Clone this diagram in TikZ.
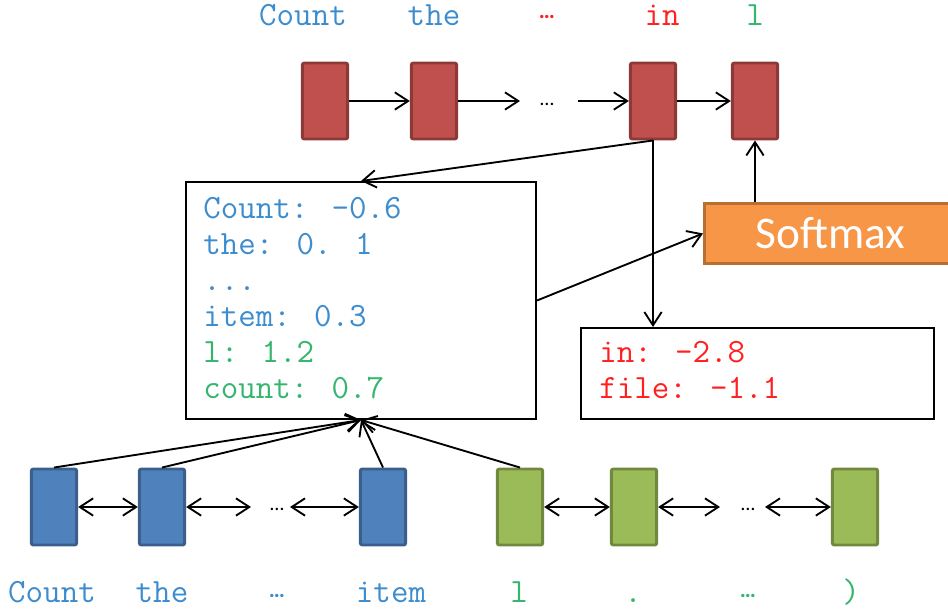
\documentclass[tikz,border=0pt]{standalone}
\usepackage{fontspec}
\setmainfont{Carlito}
\newcommand\monof{\ttfamily}
\usetikzlibrary{arrows.meta}
\definecolor{redfill}{HTML}{C0504D}
\definecolor{redline}{HTML}{8C3A38}
\definecolor{bluefill}{HTML}{4F81BD}
\definecolor{blueline}{HTML}{3A5F8B}
\definecolor{greenfill}{HTML}{9BBB59}
\definecolor{greenline}{HTML}{71893F}
\definecolor{orfill}{HTML}{F79646}
\definecolor{orline}{HTML}{B7702F}
\definecolor{tblue}{HTML}{3D8CCE}
\definecolor{tred}{HTML}{FF2020}
\definecolor{tgreen}{HTML}{35B56E}
\begin{document}
\begin{tikzpicture}[x=0.75pt,y=-0.75pt,
  cell/.style={draw, line width=2.2pt, rounded corners=1.5pt, minimum width=34pt, minimum height=57pt, inner sep=0pt},
  redcell/.style={cell, fill=redfill, draw=redline},
  bluecell/.style={cell, fill=bluefill, draw=blueline},
  greencell/.style={cell, fill=greenfill, draw=greenline},
  arr/.style={-{Straight Barb[length=10pt,width=13pt]}, line width=1.4pt},
  dbl/.style={{Straight Barb[length=10pt,width=13pt]}-{Straight Barb[length=10pt,width=13pt]}, line width=1.4pt},
  lbl/.style={font=\monof\fontsize{25.5}{27}\selectfont, inner sep=0pt, anchor=base},
  txt/.style={font=\monof\fontsize{25.5}{27}\selectfont, inner sep=0pt, anchor=base west},
  tbox/.style={draw, line width=1.5pt, inner sep=0pt, anchor=north west},
  dots/.style={font=\fontsize{15}{16}\selectfont, inner sep=0pt},
  rdots/.style={font=\bfseries\fontsize{17}{18}\selectfont, inner sep=0pt}
]
\useasboundingbox (0,0) rectangle (948,614);

% top labels
\node[lbl, text=tblue] (tl1) at (303,25) {Count};
\node[lbl, text=tblue] (tl2) at (434,25) {the};
\node[rdots, text=tred] (tl3) at (547,17) {…};
\node[lbl, text=tred] (tl4) at (662,25) {in};
\node[lbl, text=tgreen] (tl5) at (755,25) {l};

% top cells
\node[redcell] (r1) at (325,101) {};
\node[redcell] (r2) at (434,101) {};
\node[redcell] (r3) at (653,101) {};
\node[redcell] (r4) at (755,101) {};
\node[dots] (tdots) at (547,104) {…};
\coordinate (ta) at (520,101);
\coordinate (tb) at (578,101);
\draw[arr] (r1.east) -- (r2.west);
\draw[arr] (r2.east) -- (ta);
\draw[arr] (tb) -- (r3.west);
\draw[arr] (r3.east) -- (r4.west);

% embedding box
\node[tbox, minimum width=262.5pt, minimum height=177.75pt] (emb) at (185,181) {};
\node[txt, text=tblue] (e1) at (203,218) {Count: -0.6};
\node[txt, text=tblue] (e2) at (203,254) {the: 0. 1};
\node[txt, text=tblue] (e3) at (203,290) {...};
\node[txt, text=tblue] (e4) at (203,326) {item: 0.3};
\node[txt, text=tgreen] (e5) at (203,362) {l: 1.2};
\node[txt, text=tgreen] (e6) at (203,398) {count: 0.7};

% right box
\node[tbox, minimum width=264.75pt, minimum height=68.25pt] (rb) at (580,327) {};
\node[txt, text=tred] (f1) at (599,362) {in: -2.8};
\node[txt, text=tred] (f2) at (599,398) {file: -1.1};

% softmax
\node[draw=orline, fill=orfill, line width=2.2pt, minimum width=189pt, minimum height=45pt, inner sep=0pt, anchor=north west, text=white, font=\fontsize{34}{36}\selectfont] (sm) at (703,202) {Softmax};

\draw[arr] (r3.south) -- (emb.north);
\draw[arr] (r3.south) -- (r3.south |- rb.north);
\draw[arr] (emb.east) -- (sm.west);
\draw[arr] (r4.south |- sm.north) -- (r4.south);

% bottom cells
\node[bluecell] (b1) at (54,507) {};
\node[bluecell] (b2) at (162,507) {};
\node[bluecell] (b3) at (383,507) {};
\node[greencell] (g1) at (520,507) {};
\node[greencell] (g2) at (634,507) {};
\node[greencell] (g3) at (855,507) {};
\node[dots] (bdots1) at (277,509) {…};
\node[dots] (bdots2) at (748,509) {…};
\coordinate (ba) at (251,507);
\coordinate (bb) at (290,507);
\coordinate (ga) at (720,507);
\coordinate (gb) at (765,507);
\draw[dbl] (b1.east) -- (b2.west);
\draw[dbl] (b2.east) -- (ba);
\draw[dbl] (bb) -- (b3.west);
\draw[dbl] (g1.east) -- (g2.west);
\draw[dbl] (g2.east) -- (ga);
\draw[dbl] (gb) -- (g3.west);

\draw[arr] (b1.north) -- (emb.south);
\draw[arr] (b2.north) -- (emb.south);
\draw[arr] (b3.north) -- (emb.south);
\draw[arr] (g1.north) -- (emb.south);

% bottom labels
\node[lbl, text=tblue] (bl1) at (52,602) {Count};
\node[lbl, text=tblue] (bl2) at (162,602) {the};
\node[rdots, text=tblue] (bl3) at (277,596) {…};
\node[lbl, text=tblue] (bl4) at (391,602) {item};
\node[lbl, text=tgreen] (bl5) at (519,602) {l};
\node[lbl, text=tgreen] (bl6) at (633,602) {.};
\node[rdots, text=tgreen] (bl7) at (748,596) {…};
\node[lbl, text=tgreen] (bl8) at (851,602) {)};
\end{tikzpicture}
\end{document}
